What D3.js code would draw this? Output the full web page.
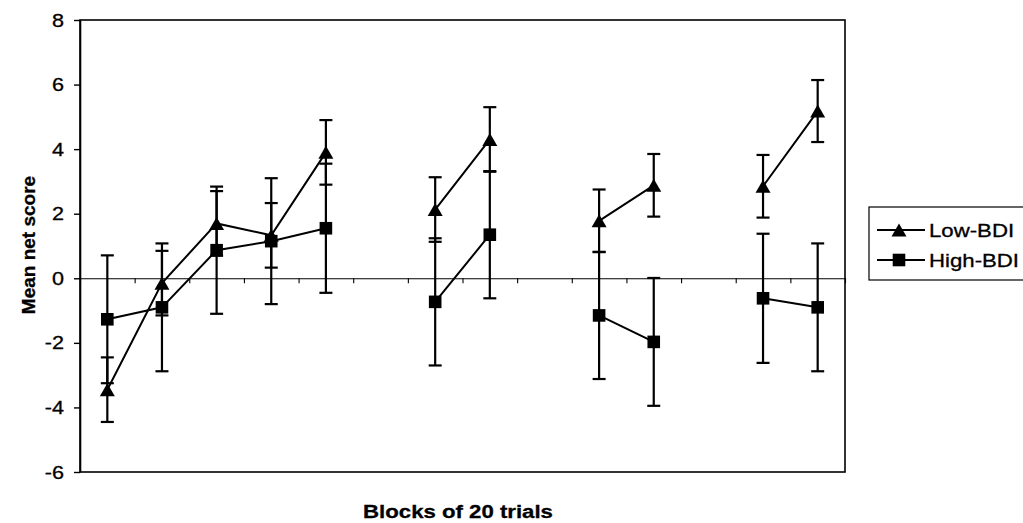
<!DOCTYPE html>
<html>
<head>
<meta charset="utf-8">
<script src="https://cdn.jsdelivr.net/npm/d3@7"></script>
<style>
  body { margin: 0; background: #fff; }
  text { font-family: 'Liberation Sans', Arial, sans-serif; fill: #000; }
</style>
</head>
<body>
<div class="chart"></div>
<script>
// Mean net score per block of 20 trials, Low-BDI vs High-BDI
// null = empty slot between the groups of blocks
var blocks = d3.range(1, 15)
var lowMean = [-3.45, -0.15, 1.7, 1.33, 3.9, null, 2.13, 4.3, null, 1.78, 2.88, null, 2.85, 5.18]
var lowErr = [1.0, 1.0, 1.0, 1.0, 1.0, null, 1.0, 1.0, null, 0.97, 0.97, null, 0.97, 0.96]
var highMean = [-1.27, -0.9, 0.87, 1.15, 1.55, null, -0.73, 1.35, null, -1.15, -1.97, null, -0.62, -0.9]
var highErr = [1.98, 1.98, 1.97, 1.95, 2.0, null, 1.97, 1.97, null, 1.97, 1.98, null, 2.0, 1.98]
var yTicks = [-6, -4, -2, 0, 2, 4, 6, 8]
var seriesNames = ['Low-BDI', 'High-BDI']

var W = 1023
var H = 523
var plot = { left: 80, right: 845, top: 20, bottom: 472 }
var sx = 1.2 // the scanned picture is stretched sideways

var svg = d3.select('.chart')
  .append('svg')
  .attr('width', W)
  .attr('height', H)

var xEdge = d3.scaleLinear()
  .domain([0, blocks.length])
  .range([plot.left, plot.right])
var xPos = b => xEdge(b - 0.5)

var yScale = d3.scaleLinear()
  .domain([-6, 8])
  .range([plot.bottom, plot.top])

function stretchText (x, y, str, size, weight) {
  return svg.append('text')
    .attr('transform', 'translate(' + x + ',' + y + ') scale(' + sx + ',1)')
    .attr('font-size', size)
    .attr('font-weight', weight || 'normal')
    .attr('stroke', '#000')
    .attr('stroke-width', 0.3)
    .text(str)
}

// plot area border
svg.append('rect')
  .attr('x', plot.left)
  .attr('y', plot.top)
  .attr('width', plot.right - plot.left)
  .attr('height', plot.bottom - plot.top)
  .attr('fill', 'none')
  .attr('stroke', '#000')
  .attr('stroke-width', 1.6)

// Y-axis: ticks from d3, labels drawn stretched (plain hyphen for negatives)
var yAxis = d3.axisLeft(yScale)
  .tickValues(yTicks)
  .tickFormat('')
  .tickSize(6)
  .tickSizeOuter(0)
var yG = svg.append('g')
  .attr('transform', 'translate(' + plot.left + ',0)')
  .call(yAxis)
yG.select('.domain').attr('stroke-width', 1.6)
yG.selectAll('.tick line').attr('stroke-width', 1.4)
yTicks.forEach(v => {
  stretchText(plot.left - 16, yScale(v) + 6.5, String(v), 18)
    .attr('text-anchor', 'end')
})

// X-axis crossing at zero
var xAxis = d3.axisBottom(xEdge)
  .tickValues(d3.range(0, blocks.length + 1))
  .tickFormat('')
  .tickSize(5)
  .tickSizeOuter(0)
var xG = svg.append('g')
  .attr('transform', 'translate(0,' + yScale(0) + ')')
  .call(xAxis)
xG.select('.domain').attr('stroke-width', 1.1)
xG.selectAll('.tick line').attr('stroke-width', 1.1)

// axis titles
stretchText(458, 518, 'Blocks of 20 trials', 18.5, 'bold')
  .attr('text-anchor', 'middle')
svg.append('text')
  .attr('transform', 'translate(35,245) rotate(-90)')
  .attr('text-anchor', 'middle')
  .attr('font-size', 19)
  .attr('font-weight', 'bold')
  .attr('stroke', '#000')
  .attr('stroke-width', 0.3)
  .text('Mean net score')

function triPath (cx, cy) {
  var w = 7.5, h = 6.5
  return 'M' + cx + ',' + (cy - h) + 'L' + (cx + w) + ',' + (cy + h) + 'L' + (cx - w) + ',' + (cy + h) + 'Z'
}
function sqPath (cx, cy) {
  var s = 6.3
  return 'M' + (cx - s) + ',' + (cy - s) + 'h' + (2 * s) + 'v' + (2 * s) + 'h' + (-2 * s) + 'Z'
}

function drawSeries (means, errs, marker) {
  var pts = blocks.map((b, i) => ({ b: b, m: means[i], e: errs[i] }))
  var line = d3.line()
    .defined(d => d.m !== null)
    .x(d => xPos(d.b))
    .y(d => yScale(d.m))
  var g = svg.append('g')
  g.append('path')
    .datum(pts)
    .attr('d', line)
    .attr('fill', 'none')
    .attr('stroke', '#000')
    .attr('stroke-width', 2)

  var real = pts.filter(d => d.m !== null)
  var bars = g.selectAll('.err')
    .data(real)
    .enter()
    .append('g')
  bars.append('line')
    .attr('x1', d => xPos(d.b))
    .attr('x2', d => xPos(d.b))
    .attr('y1', d => yScale(d.m + d.e))
    .attr('y2', d => yScale(d.m - d.e))
    .attr('stroke', '#000')
    .attr('stroke-width', 2.2)
  bars.selectAll('.cap')
    .data(d => [d.m + d.e, d.m - d.e].map(v => ({ b: d.b, v: v })))
    .enter()
    .append('line')
    .attr('x1', d => xPos(d.b) - 6.5)
    .attr('x2', d => xPos(d.b) + 6.5)
    .attr('y1', d => yScale(d.v))
    .attr('y2', d => yScale(d.v))
    .attr('stroke', '#000')
    .attr('stroke-width', 2.2)

  g.selectAll('.mark')
    .data(real)
    .enter()
    .append('path')
    .attr('d', d => marker(xPos(d.b), yScale(d.m)))
    .attr('fill', '#000')
}

drawSeries(highMean, highErr, sqPath)
drawSeries(lowMean, lowErr, triPath)

// Legend
var legend = svg.append('g')
legend.append('rect')
  .attr('x', 869)
  .attr('y', 207)
  .attr('width', 170)
  .attr('height', 73)
  .attr('fill', '#fff')
  .attr('stroke', '#000')
  .attr('stroke-width', 1.2)
var markers = [triPath, sqPath]
seriesNames.forEach((name, i) => {
  var cy = 230 + i * 30
  legend.append('line')
    .attr('x1', 877).attr('x2', 925)
    .attr('y1', cy).attr('y2', cy)
    .attr('stroke', '#000')
    .attr('stroke-width', 2)
  legend.append('path')
    .attr('d', markers[i](899, cy))
    .attr('fill', '#000')
  stretchText(929, cy + 6.5, name, 18.5)
})
</script>
</body>
</html>
